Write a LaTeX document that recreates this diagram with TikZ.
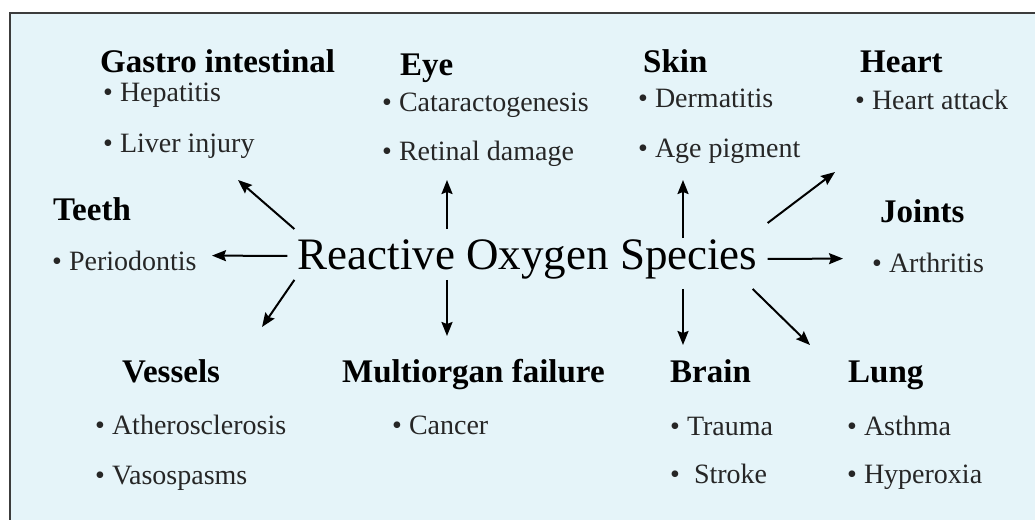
\documentclass[tikz,border=0pt]{standalone}
\usepackage{fontspec}
\setmainfont{Liberation Serif}
\usetikzlibrary{arrows.meta}

\definecolor{rosbg}{RGB}{229,244,249}
\definecolor{frame}{RGB}{60,60,60}

\begin{document}
\begin{tikzpicture}[
    x=1pt, y=-1pt,
    >=Stealth,
    title/.style={
        font=\fontsize{45}{54}\selectfont,
        inner sep=10pt,
        anchor=base
    },
    organ/.style={
        font=\bfseries\fontsize{33}{40}\selectfont,
        inner sep=0pt,
        anchor=base west
    },
    symptom/.style={
        font=\fontsize{28}{34}\selectfont,
        text=black!85,
        inner sep=0pt,
        anchor=base west
    },
    arrow/.style={-{Stealth[length=14pt, width=11pt, inset=2pt]}, line width=2pt}
]
\useasboundingbox (0,0) rectangle (1035,519);

% Background panel
\draw[fill=rosbg, draw=frame, line width=2.5pt] (10,13) rectangle (1045,530);

% Centre
\node[title] (ros) at (527.5,269) {Reactive Oxygen Species};

% Gastro intestinal
\node[organ] (gastro) at (100,73) {Gastro intestinal};
\node[symptom] (hepat) at (103,101) {• Hepatitis};
\node[symptom] (liver) at (103,152) {• Liver injury};

% Eye
\node[organ] (eye) at (400,75) {Eye};
\node[symptom] (catar) at (382,111) {• Cataractogenesis};
\node[symptom] (retina) at (382,160) {• Retinal damage};

% Skin
\node[organ] (skin) at (643,73) {Skin};
\node[symptom] (derma) at (638,107) {• Dermatitis};
\node[symptom] (pigment) at (638,157) {• Age pigment};

% Heart
\node[organ] (heart) at (860,73) {Heart};
\node[symptom] (attack) at (855,109) {• Heart attack};

% Teeth
\node[organ] (teeth) at (53,220) {Teeth};
\node[symptom] (perio) at (52,270) {• Periodontis};

% Joints
\node[organ] (joints) at (880,222) {Joints};
\node[symptom] (arthr) at (872,272) {• Arthritis};

% Vessels
\node[organ] (vessels) at (122,382) {Vessels};
\node[symptom] (athero) at (95,434) {• Atherosclerosis};
\node[symptom] (vaso) at (95,484) {• Vasospasms};

% Multiorgan failure
\node[organ] (multi) at (342,382) {Multiorgan failure};
\node[symptom] (cancer) at (392,434) {• Cancer};

% Brain
\node[organ] (brain) at (670,382) {Brain};
\node[symptom] (trauma) at (670,435) {• Trauma};
\node[symptom] (stroke) at (670,483) {•~~Stroke};

% Lung
\node[organ] (lung) at (848,382) {Lung};
\node[symptom] (asthma) at (847,435) {• Asthma};
\node[symptom] (hyper) at (847,483) {• Hyperoxia};

% Arrow tips
\coordinate (gastroTip) at (238,180);
\coordinate (eyeTip) at (447,180);
\coordinate (skinTip) at (683,180);
\coordinate (heartTip) at (835,172);
\coordinate (teethTip) at (212,255.6);
\coordinate (jointsTip) at (843,258.6);
\coordinate (vesselsTip) at (262,327);
\coordinate (multiTip) at (447,336);
\coordinate (brainTip) at (683,345);
\coordinate (lungTip) at (810,345);

% Arrows out of the centre
\draw[arrow] ([xshift=7pt]ros.north west) -- (gastroTip);
\draw[arrow] ([xshift=-80.5pt]ros.north) -- (eyeTip);
\draw[arrow] ([xshift=155.5pt, yshift=-9pt]ros.north) -- (skinTip);
\draw[arrow] ([yshift=6pt]ros.north east) -- (heartTip);
\draw[arrow] ([yshift=3pt]ros.west) -- (teethTip);
\draw[arrow] (ros.east) -- (jointsTip);
\draw[arrow] ([xshift=7pt, yshift=9pt]ros.south west) -- (vesselsTip);
\draw[arrow] ([xshift=-80.5pt, yshift=9pt]ros.south) -- (multiTip);
\draw[arrow] ([xshift=155.5pt]ros.south) -- (brainTip);
\draw[arrow] ([xshift=-15pt]ros.south east) -- (lungTip);

\end{tikzpicture}
\end{document}
